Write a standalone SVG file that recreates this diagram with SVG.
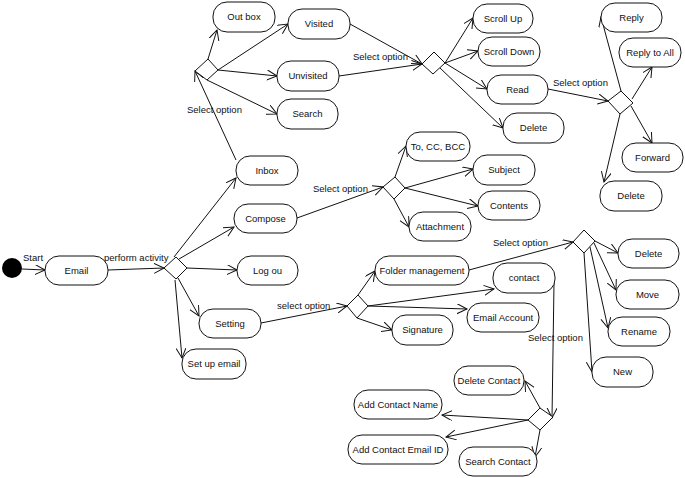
<svg xmlns="http://www.w3.org/2000/svg" width="685" height="478" viewBox="0 0 685 478">
<defs>
<style>
text{font-family:"Liberation Sans",Arial,sans-serif;font-size:9.5px;fill:#111}
.n rect{fill:#fff;stroke:#111;stroke-width:1}
.n text{text-anchor:middle}
.d{fill:#fff;stroke:#111;stroke-width:1}
#edges line{stroke:#111;stroke-width:1;marker-end:url(#arr)}
</style>
<marker id="arr" markerUnits="userSpaceOnUse" markerWidth="12" markerHeight="12" refX="10" refY="5" orient="auto">
<path d="M0,0 L10,5 L0,10" fill="none" stroke="#111" stroke-width="1"/>
</marker>
</defs>
<rect width="685" height="478" fill="#fff"/>
<g id="edges">
<line x1="22" y1="269" x2="45" y2="270"/>
<line x1="108" y1="270" x2="164" y2="268"/>
<line x1="174" y1="257" x2="236" y2="178"/>
<line x1="179" y1="259" x2="234" y2="227"/>
<line x1="187" y1="268" x2="237" y2="270"/>
<line x1="178" y1="278" x2="199" y2="316"/>
<line x1="175" y1="280" x2="182" y2="358"/>
<line x1="236" y1="160" x2="195" y2="71"/>
<line x1="208" y1="59" x2="217" y2="30"/>
<line x1="218" y1="70" x2="288" y2="24"/>
<line x1="218" y1="70" x2="277" y2="76"/>
<line x1="207" y1="80" x2="277" y2="114"/>
<line x1="350" y1="24" x2="422" y2="64"/>
<line x1="339" y1="76" x2="422" y2="64"/>
<line x1="445" y1="63" x2="473" y2="18"/>
<line x1="445" y1="63" x2="478" y2="51"/>
<line x1="445" y1="63" x2="487" y2="89"/>
<line x1="440" y1="68" x2="503" y2="128"/>
<line x1="548" y1="89" x2="608" y2="101"/>
<line x1="621" y1="91" x2="601" y2="17"/>
<line x1="632" y1="99" x2="652" y2="67"/>
<line x1="631" y1="106" x2="652" y2="143"/>
<line x1="620" y1="114" x2="604" y2="182"/>
<line x1="297" y1="218" x2="383" y2="187"/>
<line x1="395" y1="177" x2="406" y2="146"/>
<line x1="405" y1="188" x2="473" y2="169"/>
<line x1="405" y1="188" x2="478" y2="206"/>
<line x1="394" y1="199" x2="409" y2="227"/>
<line x1="261" y1="323" x2="347" y2="306"/>
<line x1="358" y1="295" x2="375" y2="271"/>
<line x1="368" y1="306" x2="494" y2="289"/>
<line x1="368" y1="306" x2="467" y2="309"/>
<line x1="357" y1="318" x2="392" y2="330"/>
<line x1="469" y1="270" x2="573" y2="242"/>
<line x1="595" y1="241" x2="618" y2="253"/>
<line x1="594" y1="243" x2="616" y2="290"/>
<line x1="590" y1="247" x2="608" y2="328"/>
<line x1="584" y1="253" x2="592" y2="372"/>
<line x1="554" y1="283" x2="552" y2="418"/>
<line x1="540" y1="408" x2="525" y2="381"/>
<line x1="528" y1="420" x2="442" y2="415"/>
<line x1="528" y1="420" x2="446" y2="437"/>
<line x1="540" y1="430" x2="535" y2="457"/>
</g>
<g id="labels">
<text x="23" y="261">Start</text>
<text x="104" y="261">perform activity</text>
<text x="187" y="113">Select option</text>
<text x="353" y="60">Select option</text>
<text x="553" y="86">Select option</text>
<text x="313" y="192">Select option</text>
<text x="277" y="309">select option</text>
<text x="493" y="246">Select option</text>
<text x="528" y="341">Select option</text>
</g>
<g id="start"><circle cx="12" cy="268" r="10" fill="#000"/></g>
<g id="d1"><polygon class="d" points="164,268 176,257 187,268 176,279"/></g>
<g id="d2"><polygon class="d" points="195,71 208,59 218,70 207,80"/></g>
<g id="d3"><polygon class="d" points="422,64 434,52 445,63 433,74"/></g>
<g id="d4"><polygon class="d" points="608,101 621,91 633,103 620,114"/></g>
<g id="d5"><polygon class="d" points="383,187 395,177 405,188 394,199"/></g>
<g id="d6"><polygon class="d" points="347,306 358,295 368,306 357,318"/></g>
<g id="d7"><polygon class="d" points="573,242 584,230 595,241 584,253"/></g>
<g id="d8"><polygon class="d" points="528,420 540,408 553,417 540,430"/></g>
<g id="email" class="n"><rect x="45" y="256" width="63" height="29" rx="14"/><text x="76.5" y="274">Email</text></g>
<g id="inbox" class="n"><rect x="236" y="156" width="62" height="29" rx="14"/><text x="267" y="174">Inbox</text></g>
<g id="compose" class="n"><rect x="234" y="204" width="63" height="29" rx="14"/><text x="265.5" y="222">Compose</text></g>
<g id="logout" class="n"><rect x="237" y="256" width="61" height="29" rx="14"/><text x="267.5" y="274">Log ou</text></g>
<g id="setting" class="n"><rect x="199" y="309" width="62" height="29" rx="14"/><text x="230" y="327">Setting</text></g>
<g id="setupemail" class="n"><rect x="182" y="349" width="64" height="30" rx="14"/><text x="214" y="367">Set up email</text></g>
<g id="outbox" class="n"><rect x="213" y="2" width="62" height="30" rx="14"/><text x="244" y="20">Out box</text></g>
<g id="visited" class="n"><rect x="288" y="9" width="62" height="30" rx="14"/><text x="319" y="27">Visited</text></g>
<g id="unvisited" class="n"><rect x="277" y="61" width="62" height="30" rx="14"/><text x="308" y="79">Unvisited</text></g>
<g id="search" class="n"><rect x="277" y="99" width="61" height="30" rx="14"/><text x="307.5" y="117">Search</text></g>
<g id="scrollup" class="n"><rect x="473" y="4" width="60" height="29" rx="14"/><text x="503" y="22">Scroll Up</text></g>
<g id="scrolldown" class="n"><rect x="478" y="37" width="62" height="29" rx="14"/><text x="509" y="55">Scroll Down</text></g>
<g id="read" class="n"><rect x="487" y="75" width="61" height="29" rx="14"/><text x="517.5" y="93">Read</text></g>
<g id="delete1" class="n"><rect x="503" y="113" width="61" height="30" rx="14"/><text x="533.5" y="131">Delete</text></g>
<g id="reply" class="n"><rect x="601" y="3" width="61" height="29" rx="14"/><text x="631.5" y="21">Reply</text></g>
<g id="replyall" class="n"><rect x="619" y="38" width="62" height="29" rx="14"/><text x="650" y="56">Reply to All</text></g>
<g id="forward" class="n"><rect x="622" y="143" width="61" height="29" rx="14"/><text x="652.5" y="161">Forward</text></g>
<g id="delete2" class="n"><rect x="600" y="181" width="62" height="30" rx="14"/><text x="631" y="199">Delete</text></g>
<g id="tocc" class="n"><rect x="406" y="132" width="64" height="29" rx="14"/><text x="438" y="150">To, CC, BCC</text></g>
<g id="subject" class="n"><rect x="473" y="155" width="62" height="30" rx="14"/><text x="504" y="173">Subject</text></g>
<g id="contents" class="n"><rect x="478" y="191" width="62" height="29" rx="14"/><text x="509" y="209">Contents</text></g>
<g id="attachment" class="n"><rect x="409" y="212" width="62" height="29" rx="14"/><text x="440" y="230">Attachment</text></g>
<g id="folder" class="n"><rect x="375" y="256" width="94" height="29" rx="14"/><text x="422" y="274">Folder management</text></g>
<g id="signature" class="n"><rect x="392" y="315" width="61" height="30" rx="14"/><text x="422.5" y="333">Signature</text></g>
<g id="contact" class="n"><rect x="493" y="263" width="62" height="30" rx="14"/><text x="524" y="281">contact</text></g>
<g id="emailaccount" class="n"><rect x="467" y="303" width="72" height="29" rx="14"/><text x="503" y="321">Email Account</text></g>
<g id="delete3" class="n"><rect x="618" y="239" width="61" height="29" rx="14"/><text x="648.5" y="257">Delete</text></g>
<g id="move" class="n"><rect x="616" y="280" width="63" height="29" rx="14"/><text x="647.5" y="298">Move</text></g>
<g id="rename" class="n"><rect x="608" y="317" width="62" height="29" rx="14"/><text x="639" y="335">Rename</text></g>
<g id="new" class="n"><rect x="592" y="357" width="61" height="30" rx="14"/><text x="622.5" y="375">New</text></g>
<g id="deletecontact" class="n"><rect x="454" y="366" width="70" height="29" rx="14"/><text x="489" y="384">Delete Contact</text></g>
<g id="addname" class="n"><rect x="354" y="390" width="88" height="29" rx="14"/><text x="398" y="408">Add Contact Name</text></g>
<g id="addemail" class="n"><rect x="348" y="435" width="100" height="29" rx="14"/><text x="398" y="453">Add Contact Email ID</text></g>
<g id="searchcontact" class="n"><rect x="459" y="447" width="78" height="29" rx="14"/><text x="498" y="465">Search Contact</text></g>
</svg>
